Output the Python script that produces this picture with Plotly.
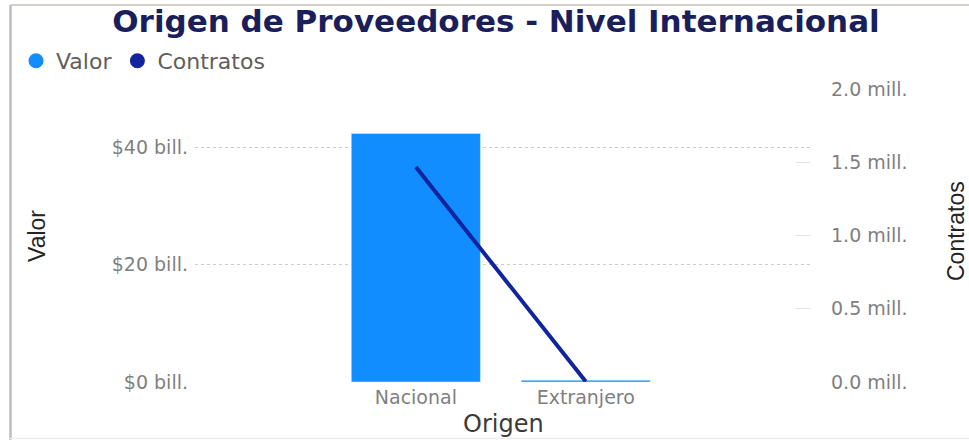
import plotly.graph_objects as go

# ---- data ----
categories = ["Nacional", "Extranjero"]
valor = [42.4e9, 0.3e9]          # Valor (COP)
contratos = [1.467e6, 0.003e6]   # Contratos
valor_tickvals = [0, 20e9, 40e9]
valor_ticktext = ["$0 bill.", "$20 bill.", "$40 bill."]
contr_tickvals = [0, 0.5e6, 1.0e6, 1.5e6, 2.0e6]
contr_ticktext = ["0.0 mill.", "0.5 mill.", "1.0 mill.", "1.5 mill.", "2.0 mill."]

C_VALOR = "#118DFF"
C_CONTR = "#12239E"

W, H = 969, 440
L, R, T, B = 195, 810, 89, 382  # plot area in pixels


def px(x):
    return (x - L) / (R - L)


def py(y):
    return (B - y) / (B - T)


fig = go.Figure()
fig.add_trace(go.Bar(x=categories, y=valor, marker_color=C_VALOR, width=0.76,
                     name="Valor", showlegend=False))
fig.add_trace(go.Scatter(x=categories, y=contratos, mode="lines", yaxis="y2",
                         line=dict(color=C_CONTR, width=4), name="Contratos",
                         showlegend=False))
# legend entries with circle markers
fig.add_trace(go.Scatter(x=[None], y=[None], mode="markers", name="Valor",
                         marker=dict(color=C_VALOR, size=15, symbol="circle")))
fig.add_trace(go.Scatter(x=[None], y=[None], mode="markers", name="Contratos",
                         marker=dict(color=C_CONTR, size=15, symbol="circle")))

SANS = "DejaVu Sans, Verdana, sans-serif"
tick_font = dict(family=SANS, size=19, color="#7f7f7f")

fig.update_layout(
    width=W, height=H,
    margin=dict(l=L, r=W - R, t=T, b=H - B),
    paper_bgcolor="white", plot_bgcolor="white",
    title=dict(text="<b>Origen de Proveedores - Nivel Internacional</b>",
               x=496 / W, xanchor="center", y=1 - 21 / H, yanchor="middle",
               font=dict(family="DejaVu Sans, Verdana, sans-serif", size=31, color="#1A1F5C")),
    showlegend=True,
    legend=dict(orientation="h", x=px(16), xanchor="left", y=py(61), yanchor="middle",
                font=dict(family=SANS, size=22, color="#605E5C"),
                itemwidth=30, tracegroupgap=0, bgcolor="rgba(0,0,0,0)"),
    xaxis=dict(range=[-1.30, 2.32], showgrid=False, zeroline=False, showline=False,
               tickfont=tick_font, ticks="", ticklabelstandoff=2),
    yaxis=dict(range=[0, 50e9], tickvals=valor_tickvals, ticktext=valor_ticktext,
               showgrid=True, gridcolor="#cccccc", griddash="dot", gridwidth=1,
               zeroline=False, showline=False, tickfont=tick_font, ticklabelstandoff=6),
    yaxis2=dict(range=[0, 2e6], tickvals=contr_tickvals, ticktext=contr_ticktext,
                overlaying="y", side="right", showgrid=False, zeroline=False,
                showline=False, tickfont=tick_font, ticks="inside", ticklen=14,
                tickcolor="#e3e3e3", ticklabelstandoff=20),
)

annot_font = dict(family="Liberation Sans Narrow, Arial Narrow, Liberation Sans, sans-serif",
                  size=23, color="#252423")
fig.add_annotation(text="Valor", xref="paper", yref="paper", x=px(37), y=py(236),
                   textangle=-90, showarrow=False, font=annot_font,
                   xanchor="center", yanchor="middle")
fig.add_annotation(text="Contratos", xref="paper", yref="paper", x=px(956), y=py(231),
                   textangle=-90, showarrow=False, font=annot_font,
                   xanchor="center", yanchor="middle")
fig.add_annotation(text="Origen", xref="paper", yref="paper", x=px(503), y=py(424),
                   showarrow=False, xanchor="center", yanchor="middle",
                   font=dict(family=SANS, size=24, color="#3b3a39"))

# frame of the visual
fig.add_shape(type="line", xref="paper", yref="paper", x0=px(10.5), x1=px(10.5),
              y0=py(5), y1=py(440), line=dict(color="#bcbcbc", width=2.5))
fig.add_shape(type="line", xref="paper", yref="paper", x0=px(10), x1=px(969),
              y0=py(5), y1=py(5), line=dict(color="#d6cfc7", width=2))
fig.add_shape(type="line", xref="paper", yref="paper", x0=px(10), x1=px(969),
              y0=py(438.5), y1=py(438.5), line=dict(color="#eeeeee", width=1.5))

fig.write_html("out.html", config={"displayModeBar": False},
               post_script="document.body.style.margin='0';")
